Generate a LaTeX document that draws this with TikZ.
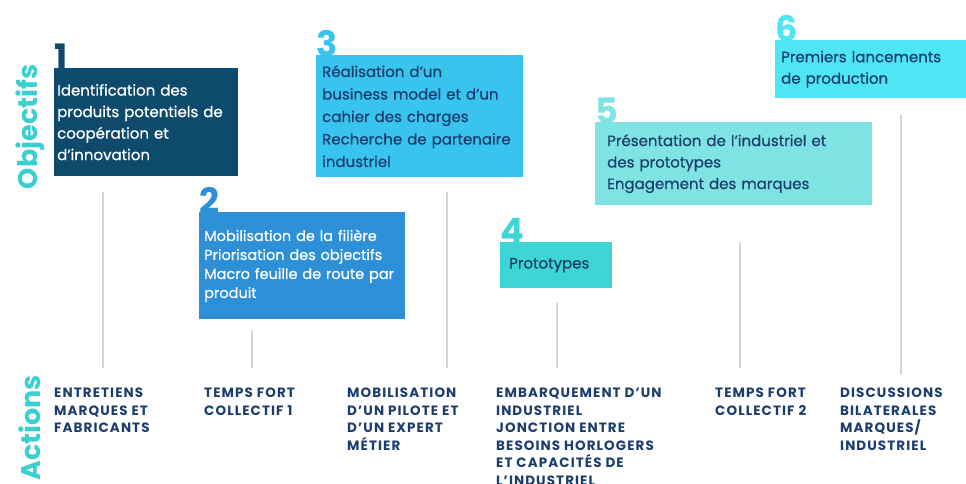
\documentclass[tikz,border=0pt]{standalone}
\usepackage{fontspec}
\setmainfont{Poppins}
\newfontfamily\goalfont[FakeBold=0.6]{Poppins}
\newfontfamily\capsfont[LetterSpace=8.0]{Poppins}
\usetikzlibrary{positioning}

\definecolor{navybox}{HTML}{0E4A6C}
\definecolor{bluebox}{HTML}{2D8FD5}
\definecolor{skybox}{HTML}{38C4EE}
\definecolor{tealbox}{HTML}{3DD5D5}
\definecolor{mintbox}{HTML}{7FE3E3}
\definecolor{cyanbox}{HTML}{4EE5F4}
\definecolor{inkblue}{HTML}{1C3E6E}
\definecolor{headteal}{HTML}{3CCFCF}
\definecolor{stemgray}{HTML}{D4D4D4}

\begin{document}
\begin{tikzpicture}[
  x=1pt, y=-1pt,
  goal/.style={anchor=north west, inner ysep=0pt, align=left, text=inkblue,
    font=\goalfont\fontsize{15}{21.5}\selectfont},
  digit/.style={anchor=south west, inner sep=0pt, yshift=-2pt,
    font=\bfseries\fontsize{35}{35}\selectfont},
  act/.style={anchor=north west, inner sep=0pt, align=left, text=inkblue,
    font=\capsfont\bfseries\fontsize{13.5}{17.5}\selectfont},
  stem/.style={stemgray, line width=2pt},
  heading/.style={rotate=90, inner sep=0pt, text=headteal,
    font=\bfseries\fontsize{27}{27}\selectfont}
]
\useasboundingbox[fill=white] (0,0) rectangle (966,484);

% side headings
\node[heading] (hobj) at (30,127) {Objectifs};
\node[heading, anchor=east] (hact) at (30,375) {Actions};

% objective boxes
\node[goal, fill=navybox, text=white, minimum width=184pt, minimum height=108pt,
  inner xsep=3pt, text width=178pt] (b1) at (54,68)
  {Identification des\\produits potentiels de\\coopération et\\d’innovation};
\node[goal, fill=bluebox, text=white, minimum width=206pt, minimum height=107pt,
  inner xsep=5pt, text width=196pt, font=\goalfont\fontsize{14.5}{19}\selectfont] (b2) at (199,212)
  {Mobilisation de la filière\\Priorisation des objectifs\\Macro feuille de route par\\produit};
\node[goal, fill=skybox, minimum width=207pt, minimum height=122pt,
  inner xsep=6pt, text width=195pt, font=\goalfont\fontsize{15}{22.5}\selectfont] (b3) at (316,55)
  {Réalisation d’un\\business model et d’un\\cahier des charges\\Recherche de partenaire\\industriel};
\node[goal, fill=tealbox, minimum width=112pt, minimum height=46pt,
  inner xsep=9pt, text width=94pt] (b4) at (500,242) {Prototypes};
\node[goal, fill=mintbox, minimum width=277pt, minimum height=83pt,
  inner xsep=12pt, text width=253pt] (b5) at (595,122)
  {Présentation de l’industriel et\\des prototypes\\Engagement des marques};
\node[goal, fill=cyanbox, minimum width=191pt, minimum height=58pt,
  inner xsep=6pt, text width=179pt] (b6) at (775,40)
  {Premiers lancements\\de production};

% step numbers
\node[digit, text=navybox] (n1) at (b1.north west) {1};
\node[digit, text=bluebox] (n2) at (b2.north west) {2};
\node[digit, text=skybox] (n3) at (b3.north west) {3};
\node[digit, text=tealbox] (n4) at (b4.north west) {4};
\node[digit, text=mintbox] (n5) at (b5.north west) {5};
\node[digit, text=cyanbox] (n6) at (b6.north west) {6};

% actions
\node[act] (a1) at (54,388) {ENTRETIENS\\MARQUES ET\\FABRICANTS};
\node[act] (a2) at (204,388) {TEMPS FORT\\COLLECTIF 1};
\node[act] (a3) at (347,388) {MOBILISATION\\D’UN PILOTE ET\\D’UN EXPERT\\MÉTIER};
\node[act] (a4) at (496,388) {EMBARQUEMENT D’UN\\INDUSTRIEL\\JONCTION ENTRE\\BESOINS HORLOGERS\\ET CAPACITÉS DE\\L’INDUSTRIEL};
\node[act] (a5) at (715,388) {TEMPS FORT\\COLLECTIF 2};
\node[act] (a6) at (840,388) {DISCUSSIONS\\BILATERALES\\MARQUES/\\INDUSTRIEL};

% stems from objectives down to actions
\coordinate (s1) at (103,192);
\coordinate (s2) at (252,330);
\coordinate (s3) at (447,192);
\coordinate (s4) at (557,303);
\coordinate (s5) at (740,242);
\coordinate (s6) at (901,115);
\draw[stem] (s1) -- (s1 |- 0,368);
\draw[stem] (s2) -- (s2 |- 0,368);
\draw[stem] (s3) -- (s3 |- 0,368);
\draw[stem] (s4) -- (s4 |- 0,368);
\draw[stem] (s5) -- (s5 |- 0,368);
\draw[stem] (s6) -- (s6 |- 0,375);

\end{tikzpicture}
\end{document}
